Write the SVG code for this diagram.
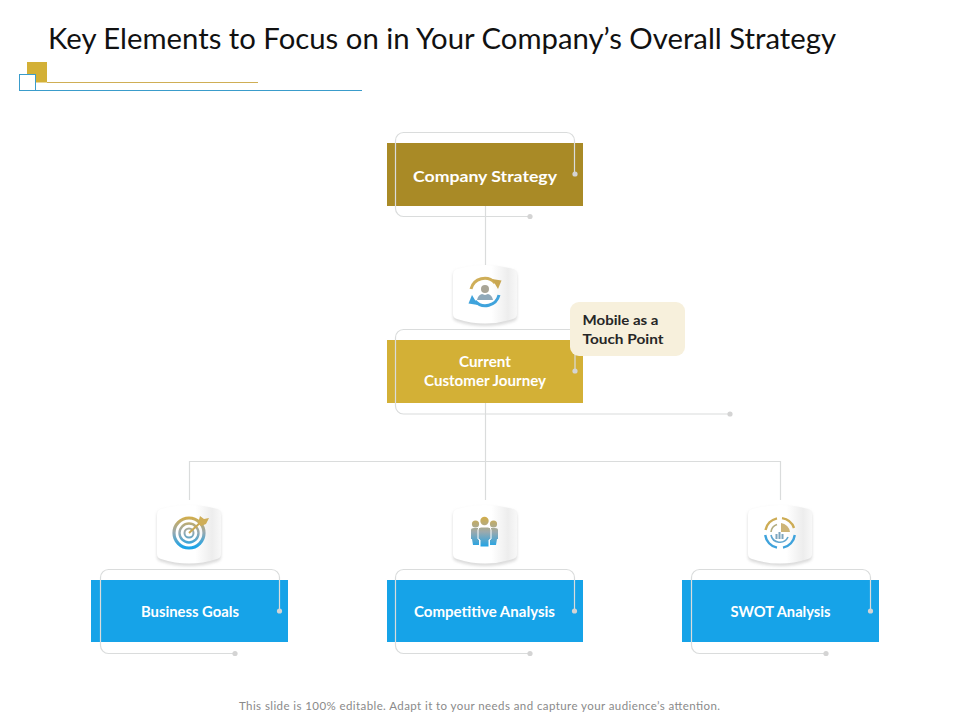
<svg xmlns="http://www.w3.org/2000/svg" xmlns:xlink="http://www.w3.org/1999/xlink" width="960" height="720" viewBox="0 0 960 720">
<style>
text{font-family:"Lato","Open Sans","Liberation Sans",sans-serif}
.lbl{font-size:15px;font-weight:700;fill:#fff;text-anchor:middle}
.line{fill:none;stroke:#dadcdc;stroke-width:1.2}
.dot{fill:#d4d4d4}
.call{font-size:14px;font-weight:700;fill:#262626}
</style>
<defs>
<linearGradient id="cyl" x1="0" x2="1" y1="0" y2="0">
<stop offset="0" stop-color="#fff"/><stop offset="0.6" stop-color="#fff"/><stop offset="0.86" stop-color="#ededed"/><stop offset="1" stop-color="#f8f8f8"/>
</linearGradient>
<linearGradient id="ig" gradientUnits="userSpaceOnUse" x1="0" y1="-16" x2="0" y2="14">
<stop offset="0" stop-color="#d2ad4a"/><stop offset="0.5" stop-color="#9aa9ae"/><stop offset="1" stop-color="#1ca4e8"/>
</linearGradient>
<filter id="sh" x="-20%" y="-20%" width="140%" height="140%"><feGaussianBlur stdDeviation="1.6"/></filter>
<g id="cylinder">
<path d="M-32 -20Q-32 -25 -28 -26Q0 -33 28 -26Q32 -25 32 -20V20Q32 24 28 25Q0 34 -28 25Q-32 24 -32 20Z" fill="#b5b5b5" opacity="0.5" filter="url(#sh)" transform="translate(0,1.5)"/>
<path d="M-32 -20Q-32 -25 -28 -26Q0 -34 28 -26Q32 -25 32 -20V19Q32 23 28 24Q0 33 -28 24Q-32 23 -32 19Z" fill="url(#cyl)"/>
</g>
</defs>

<g id="header">
<text x="48" y="49" font-size="29" fill="#111" textLength="788" lengthAdjust="spacingAndGlyphs">Key Elements to Focus on in Your Company’s Overall Strategy</text>
<rect x="27" y="62" width="20" height="20.5" fill="#d3b036"/>
<line x1="47" y1="82.500" x2="258" y2="82.500" stroke="#cfae55" stroke-width="1"/>
<line x1="35" y1="90.500" x2="362" y2="90.500" stroke="#3a9ccb" stroke-width="1"/>
<rect x="19.500" y="74.500" width="16" height="16" fill="#fff" stroke="#3a9ccb" stroke-width="1"/>
</g>

<g id="connectors" class="line">
<path d="M485.500 206V265"/>
<path d="M485.500 403V500"/>
<path d="M189.500 500V461.500H780.500V500"/>
</g>

<g id="node-company-strategy">
<rect x="387" y="143" width="196" height="63" fill="#a98a26"/>
<path class="line" d="M574.500 174V140.500a8 8 0 0 0-8-8H403.500a8 8 0 0 0-8 8V208.500a8 8 0 0 0 8 8H530"/>
<circle class="dot" cx="575" cy="174" r="2.600"/><circle class="dot" cx="530" cy="216.500" r="2.600"/>
<text class="lbl" x="485" y="182" style="font-size:16px" textLength="144" lengthAdjust="spacingAndGlyphs">Company Strategy</text>
</g>

<g id="node-cycle-icon" transform="translate(485,295)">
<use xlink:href="#cylinder" href="#cylinder"/>
<g transform="translate(0,-3)">
<path d="M-14 -3A14 14 0 0 1 10 -9" fill="none" stroke="#cfae58" stroke-width="3"/>
<path d="M7 -13L16.500 -11.500L13 -3Z" fill="#c9a752"/>
<path d="M14 3A14 14 0 0 1 -10 9" fill="none" stroke="#3fa3dc" stroke-width="3"/>
<path d="M-7 13L-16.500 11.500L-13 3Z" fill="#3fa3dc"/>
<circle cx="0" cy="-3" r="4" fill="#a9a596"/>
<path d="M-8 8Q-7 3 -3 2L0 3L3 2Q7 3 8 8Z" fill="#8fa9ba"/>
</g>
</g>

<g id="node-current-journey">
<rect x="387" y="340" width="196" height="63" fill="#d3b036"/>
<path class="line" d="M575 371V329.500H403.500a8 8 0 0 0-8 8V406a8 8 0 0 0 8 8H730"/>
<circle class="dot" cx="575" cy="371" r="2.600"/><circle class="dot" cx="730" cy="414" r="2.600"/>
<text class="lbl" x="485" y="367" textLength="52" lengthAdjust="spacingAndGlyphs">Current</text>
<text class="lbl" x="485" y="386" textLength="122" lengthAdjust="spacingAndGlyphs">Customer Journey</text>
</g>

<g id="node-mobile-touch-point">
<rect x="570" y="302" width="115" height="54" rx="9" fill="#f7f0dc"/>
<text class="call" x="582.500" y="325" textLength="76" lengthAdjust="spacingAndGlyphs">Mobile as a</text>
<text class="call" x="582.500" y="344" textLength="81" lengthAdjust="spacingAndGlyphs">Touch Point</text>
</g>

<g id="node-target-icon" transform="translate(189,535)">
<use xlink:href="#cylinder" href="#cylinder"/>
<g transform="translate(0,-2)" fill="none" stroke="url(#ig)">
<circle r="15" stroke-width="3.200"/>
<circle r="9.500" stroke-width="2.400"/>
<circle r="4.500" stroke-width="2"/>
<path d="M0 0L13 -12" stroke="#c9a752" stroke-width="2"/>
<path d="M9 -10L11 -17L15 -14L20 -15L17 -9L12 -7Z" fill="#cfae58" stroke="none"/>
</g>
</g>

<g id="node-people-icon" transform="translate(485,535)">
<use xlink:href="#cylinder" href="#cylinder"/>
<g transform="translate(0,-2)" fill="url(#ig)">
<circle cx="-9.500" cy="-9" r="3.600"/><circle cx="8.500" cy="-9" r="3.600"/><circle cx="-0.500" cy="-12" r="4.200"/>
<path d="M-14 -3Q-14 -5 -11 -5H-6V12H-12L-13 6H-14Z"/>
<path d="M13 -3Q13 -5 10 -5H5V12H11L12 6H13Z"/>
<path d="M-7 -3Q-7 -6 -4 -6H3Q6 -6 6 -3V6L4 7V14H-5V7L-7 6Z" stroke="#fff" stroke-width="1"/>
</g>
</g>

<g id="node-swot-icon" transform="translate(780,535)">
<use xlink:href="#cylinder" href="#cylinder"/>
<g transform="translate(0,-2)" fill="none">
<path d="M-14.500 -3A15 15 0 0 1 -3 -14.700" stroke="#cdac55" stroke-width="2.400"/>
<path d="M2 -14.900A15 15 0 0 1 14 -5" stroke="#cdac55" stroke-width="2.400"/>
<path d="M-14.800 2A15 15 0 0 0 -3 14.700" stroke="#3fa3dc" stroke-width="2.400"/>
<path d="M3 14.700A15 15 0 0 0 14.800 2" stroke="#3fa3dc" stroke-width="2.400"/>
<path d="M-9 -1A9 9 0 0 1 -3 -8.500" stroke="#b4ad80" stroke-width="1.600"/>
<path d="M-9 2A9 9 0 0 0 8 4" stroke="#5fa6cf" stroke-width="1.600"/>
<path d="M1 -10A10 10 0 0 1 10 -1L1 -1Z" fill="#cdb477"/>
<rect x="-4.500" y="1" width="2" height="5" fill="#7fa6be"/><rect x="-1.500" y="-1" width="2" height="7" fill="#7fa6be"/><rect x="1.500" y="1" width="2" height="5" fill="#7fa6be"/>
</g>
</g>

<g id="node-business-goals">
<rect x="91" y="580" width="197" height="62" fill="#16a3e8"/>
<path class="line" d="M279.500 611V577.500a8 8 0 0 0-8-8H108.500a8 8 0 0 0-8 8V645.500a8 8 0 0 0 8 8H235"/>
<circle class="dot" cx="279.500" cy="611" r="2.600"/><circle class="dot" cx="235" cy="653.500" r="2.600"/>
<text class="lbl" x="190" y="617" textLength="98" lengthAdjust="spacingAndGlyphs">Business Goals</text>
</g>

<g id="node-competitive-analysis">
<rect x="387" y="580" width="196" height="62" fill="#16a3e8"/>
<path class="line" d="M574.500 611V577.500a8 8 0 0 0-8-8H403.500a8 8 0 0 0-8 8V645.500a8 8 0 0 0 8 8H530"/>
<circle class="dot" cx="574.500" cy="611" r="2.600"/><circle class="dot" cx="530" cy="653.500" r="2.600"/>
<text class="lbl" x="484.500" y="617" textLength="141" lengthAdjust="spacingAndGlyphs">Competitive Analysis</text>
</g>

<g id="node-swot-analysis">
<rect x="682" y="580" width="197" height="62" fill="#16a3e8"/>
<path class="line" d="M870.500 611V577.500a8 8 0 0 0-8-8H699.500a8 8 0 0 0-8 8V645.500a8 8 0 0 0 8 8H826"/>
<circle class="dot" cx="870.500" cy="611" r="2.600"/><circle class="dot" cx="826" cy="653.500" r="2.600"/>
<text class="lbl" x="780.500" y="617" textLength="100" lengthAdjust="spacingAndGlyphs">SWOT Analysis</text>
</g>

<text id="footer" x="239" y="710" font-size="11.500" fill="#8a8a8a" textLength="481" lengthAdjust="spacing">This slide is 100% editable. Adapt it to your needs and capture your audience’s attention.</text>
</svg>
